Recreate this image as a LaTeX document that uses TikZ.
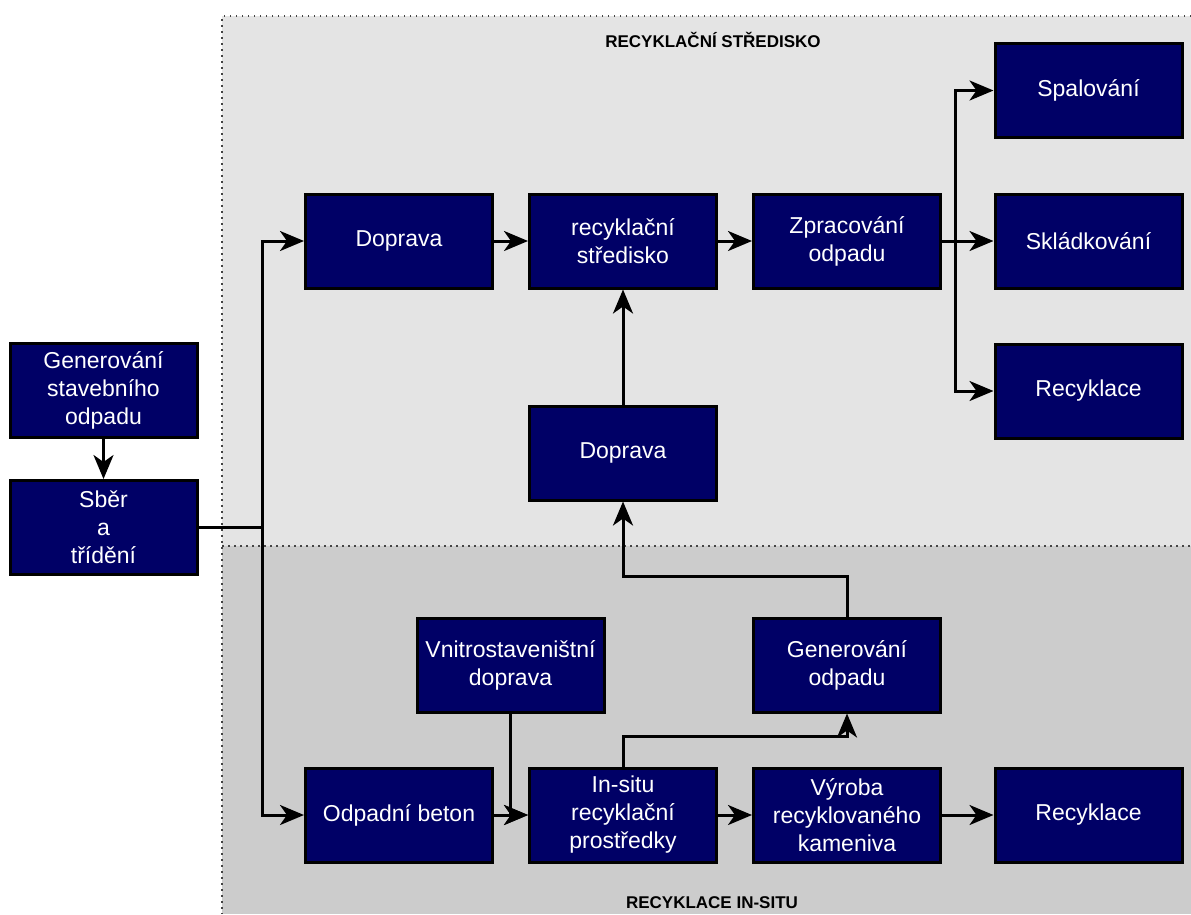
\documentclass[tikz,border=0pt]{standalone}
\usepackage{fontspec}
\setmainfont{Liberation Sans}
\usetikzlibrary{arrows.meta}
\definecolor{navy}{HTML}{000066}
\definecolor{zoneA}{HTML}{E4E4E4}
\definecolor{zoneB}{HTML}{CCCCCC}
\definecolor{dotgray}{HTML}{444444}
\begin{document}
\begin{tikzpicture}[x=1pt,y=-1pt,
  box/.style={draw=black, line width=3pt, fill=navy, text=white,
    minimum width=187pt, minimum height=94pt, inner sep=0pt, align=center,
    font=\fontsize{23}{28}\selectfont},
  flow/.style={line width=3pt, -{Stealth[length=24pt 0 0,width=20pt 0 0,inset=7pt 0 0]}},
  link/.style={line width=3pt},
  zoneline/.style={draw=dotgray, line width=1.5pt, dash pattern=on 1.5pt off 4.5pt},
  zonetitle/.style={font=\fontsize{17}{20}\selectfont\bfseries, text=black}]
\useasboundingbox (0,0) rectangle (1191,914);
% zones
\fill[zoneA] (222,16) rectangle (1191,546);
\fill[zoneB] (222,546) rectangle (1191,914);
\draw[zoneline] (1191,16) -- (222,16) -- (222,914);
\draw[zoneline] (222,546) -- (1191,546);
\node[zonetitle] (tA) at (713,40) {RECYKLAČNÍ STŘEDISKO};
\node[zonetitle] (tB) at (712,903) {RECYKLACE IN-SITU};
% boxes
\node[box] (gen) at (103.5,390.5) {Generování\\stavebního\\odpadu};
\node[box] (sber) at (103.5,527.5) {Sběr\\a\\třídění};
\node[box] (dop1) at (399,241) {Doprava};
\node[box] (rs) at (623,241) {recyklační\\středisko};
\node[box] (zpr) at (847,241) {Zpracování\\odpadu};
\node[box] (spal) at (1088.5,90.5) {Spalování};
\node[box] (skl) at (1088.5,241) {Skládkování};
\node[box] (recT) at (1088.5,391) {Recyklace};
\node[box] (dop2) at (623,453) {Doprava};
\node[box] (vnitro) at (510.5,665) {Vnitrostaveništní\\doprava};
\node[box] (genodp) at (847,665) {Generování\\odpadu};
\node[box] (beton) at (399,815) {Odpadní beton};
\node[box] (insitu) at (623,815) {In-situ\\recyklační\\prostředky};
\node[box] (vyroba) at (847,815) {Výroba\\recyklovaného\\kameniva};
\node[box] (recB) at (1088.5,815) {Recyklace};
% connectors
\coordinate (j) at (262,527.5);
\coordinate (s) at (955,241);
\draw[flow] (gen) -- (sber);
\draw[link] (sber.east) -- (j);
\draw[flow] (j) |- (dop1.west);
\draw[flow] (j) |- (beton.west);
\draw[flow] (dop1) -- (rs);
\draw[flow] (rs) -- (zpr);
\draw[flow] (zpr) -- (skl);
\draw[flow] (s) |- (spal.west);
\draw[flow] (s) |- (recT.west);
\draw[flow] (dop2) -- (rs);
\draw[flow] (genodp.north) -- ++(0,-40) -| (dop2.south);
\draw[flow] (insitu.north) -- ++(0,-30) -| (genodp.south);
\draw[flow] (vnitro.south) |- (insitu.west);
\draw[flow] (beton) -- (insitu);
\draw[flow] (insitu) -- (vyroba);
\draw[flow] (vyroba) -- (recB);
\end{tikzpicture}
\end{document}
